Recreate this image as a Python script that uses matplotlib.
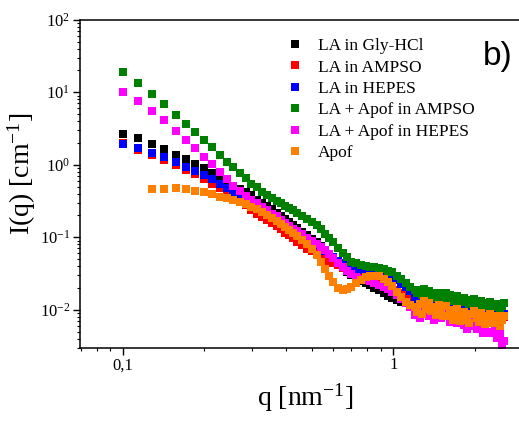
import numpy as np
import matplotlib
matplotlib.use('Agg')
import matplotlib.pyplot as plt
from matplotlib.ticker import LogLocator, NullFormatter, FixedLocator, FixedFormatter

plt.rcParams['font.family'] = ['Liberation Serif', 'DejaVu Serif']
plt.rcParams['mathtext.fontset'] = 'custom'
plt.rcParams['mathtext.rm'] = 'Liberation Serif'
plt.rcParams['mathtext.it'] = 'Liberation Serif:italic'
plt.rcParams['mathtext.bf'] = 'Liberation Serif:bold'

# q grid [nm^-1]
q = [0.100, 0.114, 0.128, 0.142, 0.157, 0.171, 0.185, 0.199, 0.214, 0.228,
     0.242, 0.256, 0.271, 0.285, 0.299, 0.313, 0.328, 0.342, 0.356, 0.370,
     0.385, 0.399, 0.413, 0.427, 0.442, 0.46, 0.48, 0.50, 0.52, 0.54,
     0.56, 0.58, 0.60, 0.625, 0.65, 0.675, 0.70, 0.73, 0.76, 0.79,
     0.82, 0.85, 0.885, 0.92, 0.955, 0.99, 1.03, 1.07, 1.11, 1.155,
     1.20, 1.225, 1.25, 1.275, 1.30, 1.325, 1.35, 1.38, 1.41, 1.44,
     1.47, 1.50, 1.53, 1.56, 1.59, 1.62, 1.655, 1.69, 1.725, 1.76,
     1.795, 1.83, 1.87, 1.91, 1.95, 1.99, 2.03, 2.07, 2.11, 2.15,
     2.19, 2.235, 2.28, 2.325, 2.37, 2.42, 2.47, 2.52, 2.57]

la_gly = [2.65, 2.30, 1.93, 1.65, 1.38, 1.19, 1.02, 0.887, 0.761, 0.649,
          0.560, 0.500, 0.455, 0.414, 0.376, 0.331, 0.296, 0.269, 0.241, 0.219,
          0.199, 0.178, 0.162, 0.147, 0.134, 0.118, 0.106, 0.0944, 0.0845, 0.0757,
          0.0666, 0.0587, 0.0517, 0.0441, 0.0382, 0.0336, 0.0301, 0.0269, 0.0249, 0.0233,
          0.0216, 0.0199, 0.0184, 0.0170, 0.0155, 0.0143, 0.0134, 0.0128, 0.0124, 0.0120,
          0.0118, 0.0116, 0.0114, 0.0114, 0.0114, 0.0114, 0.0113, 0.0112, 0.0111, 0.0110,
          0.0108, 0.0107, 0.0106, 0.0105, 0.0104, 0.0103, 0.0102, 0.0101, 0.00999, 0.00990,
          0.00981, 0.00971, 0.00959, 0.00950, 0.00941, 0.00929, 0.00920, 0.00911, 0.00903, 0.00894,
          0.00886, 0.00877, 0.00869, 0.00861, 0.00850, 0.00842, 0.00834, 0.00826, 0.00818]

la_ampso = [2.02, 1.62, 1.36, 1.16, 0.991, 0.845, 0.733, 0.635, 0.550, 0.477,
            0.414, 0.364, 0.316, 0.274, 0.237, 0.212, 0.190, 0.173, 0.155, 0.141,
            0.130, 0.116, 0.106, 0.0975, 0.0859, 0.0769, 0.0698, 0.0645, 0.0596, 0.0551,
            0.0508, 0.0470, 0.0441, 0.0407, 0.0376, 0.0347, 0.0326, 0.0306, 0.0287, 0.0274,
            0.0261, 0.0249, 0.0237, 0.0226, 0.0212, 0.0199, 0.0184, 0.0170, 0.0157, 0.0145,
            0.0136, 0.0134, 0.0132, 0.0130, 0.0128, 0.0127, 0.0125, 0.0123, 0.0121, 0.0119,
            0.0118, 0.0116, 0.0115, 0.0113, 0.0112, 0.0110, 0.0108, 0.0107, 0.0105, 0.0104,
            0.0102, 0.0101, 0.00993, 0.00978, 0.00962, 0.00950, 0.00935, 0.00923, 0.00911, 0.00897,
            0.00886, 0.00872, 0.00861, 0.00847, 0.00836, 0.00823, 0.00813, 0.00800, 0.00790]

la_hepes = [1.96, 1.70, 1.47, 1.26, 1.09, 0.938, 0.813, 0.714, 0.625, 0.550,
            0.477, 0.420, 0.364, 0.326, 0.292, 0.261, 0.234, 0.212, 0.193, 0.175,
            0.160, 0.145, 0.134, 0.124, 0.114, 0.104, 0.0944, 0.0859, 0.0780, 0.0710,
            0.0645, 0.0587, 0.0533, 0.0477, 0.0434, 0.0401, 0.0382, 0.0364, 0.0353, 0.0342,
            0.0331, 0.0321, 0.0311, 0.0301, 0.0287, 0.0274, 0.0257, 0.0226, 0.0206, 0.0181,
            0.0146, 0.0138, 0.0136, 0.0132, 0.0134, 0.0128, 0.0130, 0.0124, 0.0126, 0.0120,
            0.0122, 0.0117, 0.0120, 0.0115, 0.0118, 0.0113, 0.0115, 0.0109, 0.0113, 0.0107,
            0.0111, 0.0105, 0.0109, 0.0104, 0.0107, 0.0102, 0.0105, 0.0101, 0.0102, 0.00978,
            0.00996, 0.00949, 0.00949, 0.00901, 0.00917, 0.00873, 0.00887, 0.00846, 0.00860]

la_apof_ampso = [18.7, 13.3, 9.38, 6.87, 4.92, 3.68, 2.83, 2.17, 1.73, 1.36,
                 1.09, 0.915, 0.761, 0.649, 0.550, 0.486, 0.423, 0.376, 0.347, 0.316,
                 0.292, 0.269, 0.250, 0.234, 0.216, 0.196, 0.178, 0.162, 0.147, 0.130,
                 0.112, 0.0975, 0.0845, 0.0710, 0.0605, 0.0525, 0.0462, 0.0434, 0.0414, 0.0401,
                 0.0388, 0.0382, 0.0370, 0.0364, 0.0347, 0.0331, 0.0292, 0.0261, 0.0233, 0.0206,
                 0.0184, 0.0169, 0.0187, 0.0160, 0.0191, 0.0168, 0.0181, 0.0158, 0.0169, 0.0147,
                 0.0171, 0.0158, 0.0146, 0.0171, 0.0145, 0.0157, 0.0133, 0.0147, 0.0155, 0.0128,
                 0.0136, 0.0144, 0.0126, 0.0119, 0.0136, 0.0140, 0.0123, 0.0117, 0.0133, 0.0122,
                 0.0109, 0.0124, 0.0128, 0.0110, 0.0111, 0.0121, 0.0104, 0.0114, 0.0122]

la_apof_hepes = [10.2, 7.68, 5.59, 4.14, 2.96, 2.19, 1.70, 1.29, 1.02, 0.793,
                 0.625, 0.508, 0.430, 0.370, 0.331, 0.296, 0.261, 0.234, 0.212, 0.193,
                 0.173, 0.157, 0.141, 0.130, 0.120, 0.109, 0.0990, 0.0900, 0.0818, 0.0732,
                 0.0656, 0.0587, 0.0517, 0.0441, 0.0388, 0.0342, 0.0311, 0.0282, 0.0265, 0.0253,
                 0.0245, 0.0233, 0.0219, 0.0206, 0.0193, 0.0175, 0.0157, 0.0141, 0.0124, 0.0109,
                 0.00858, 0.0106, 0.00780, 0.0112, 0.00872, 0.0104, 0.00806, 0.00929, 0.00732, 0.0104,
                 0.00900, 0.00780, 0.0109, 0.00806, 0.00944, 0.00687, 0.00845, 0.00944, 0.00655, 0.00721,
                 0.00806, 0.00615, 0.00550, 0.00721, 0.00780, 0.00605, 0.00542, 0.00709, 0.00596, 0.00477,
                 0.00615, 0.00655, 0.00477, 0.00485, 0.00568, 0.00407, 0.00469, 0.00316, 0.00370]

# Apof starts at the third q point
apof = [0.462, 0.458, 0.470, 0.458, 0.438, 0.414, 0.394, 0.364, 0.344, 0.326,
        0.306, 0.283, 0.261, 0.241, 0.223, 0.202, 0.184, 0.167, 0.152, 0.138,
        0.126, 0.114, 0.104, 0.0915, 0.0805, 0.0687, 0.0568, 0.0455, 0.0364, 0.0292,
        0.0241, 0.0202, 0.0187, 0.0190, 0.0206, 0.0230, 0.0257, 0.0278, 0.0292, 0.0296,
        0.0292, 0.0269, 0.0241, 0.0209, 0.0178, 0.0150, 0.0128, 0.0116,
        0.0109, 0.00929, 0.0118, 0.00886, 0.0130, 0.0102, 0.0124, 0.00959, 0.0109, 0.00845,
        0.0116, 0.00990, 0.00831, 0.0114, 0.00831, 0.00990, 0.00721, 0.00886, 0.0101, 0.00709,
        0.00800, 0.00923, 0.00728, 0.00662, 0.00881, 0.00968, 0.00763, 0.00687, 0.00900, 0.00768,
        0.00625, 0.00818, 0.00886, 0.00655, 0.00687, 0.00818, 0.00605, 0.00721, 0.00826]

labels = ['LA in Gly-HCl', 'LA in AMPSO', 'LA in HEPES',
          'LA + Apof in AMPSO', 'LA + Apof in HEPES', 'Apof']
colors = ['#000000', '#ff0000', '#0000ff', '#008000', '#ff00ff', '#ff8000']
series = [(q, la_gly), (q, la_ampso), (q, la_hepes),
          (q, la_apof_ampso), (q, la_apof_hepes), (q[2:], apof)]

fig = plt.figure(figsize=(5.19, 4.24), dpi=100)
ax = fig.add_axes([80/519, 1-347.6/424, 460.6/519, 327.9/424])

for (xx, yy), lab, c in zip(series, labels, colors):
    ax.plot(xx, yy, ls='none', marker='s', ms=5.2, mew=0, color=c, label=lab)

ax.set_xscale('log')
ax.set_yscale('log')
ax.set_xlim(0.0695, 3.5)
ax.set_ylim(0.003, 100)

ax.xaxis.set_major_locator(FixedLocator([0.1, 1]))
ax.xaxis.set_major_formatter(FixedFormatter(['0,1', '1']))
ax.xaxis.set_minor_locator(LogLocator(base=10, subs=np.arange(2, 10) * 1.0, numticks=20))
ax.xaxis.set_minor_formatter(NullFormatter())
ax.yaxis.set_major_locator(LogLocator(base=10, numticks=10))
ax.yaxis.set_minor_locator(LogLocator(base=10, subs=np.arange(2, 10) * 1.0, numticks=20))
ax.yaxis.set_minor_formatter(NullFormatter())

ax.tick_params(which='major', direction='out', length=5, width=1, labelsize=12, pad=2)
ax.tick_params(which='minor', direction='out', length=2.5, width=0.8)
ax.tick_params(top=False, right=False)
for s in ['left', 'bottom', 'top']:
    ax.spines[s].set_linewidth(1.1)
ax.spines['right'].set_visible(False)

ax.set_xlabel('q [nm$^{-1}$]', fontsize=20)
ax.xaxis.set_label_coords(0.4885, -0.102)
ax.set_ylabel('I(q) [cm$^{-1}$]', fontsize=20)
ax.yaxis.set_label_coords(-0.0912, 0.529)

ax.legend(loc='upper left', bbox_to_anchor=(286/519, 1-38/424), bbox_transform=fig.transFigure,
          frameon=False, fontsize=12.5, handlelength=1.0, handletextpad=0.85,
          labelspacing=0.30, borderpad=0, borderaxespad=0, numpoints=1)

fig.text(483/519, 1-57/424, 'b)', fontfamily='Liberation Sans', fontsize=24, va='center', ha='left')

fig.savefig('out.png', dpi=100)
